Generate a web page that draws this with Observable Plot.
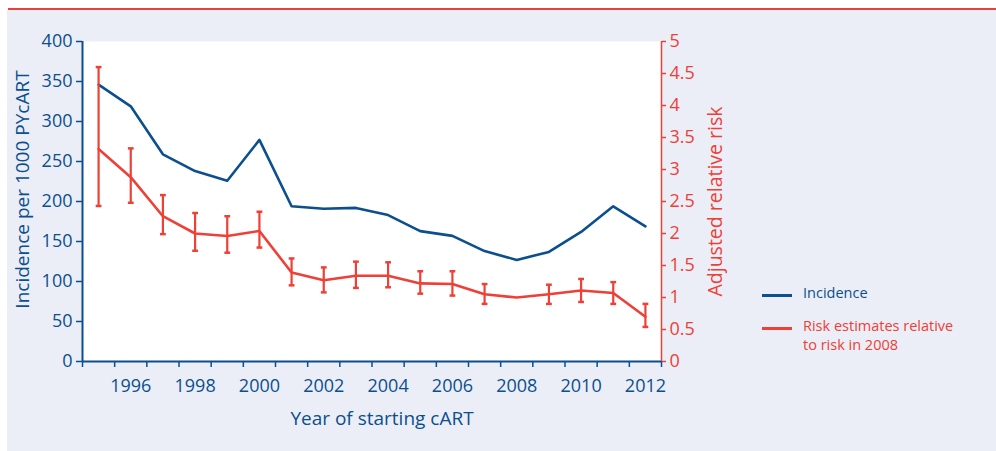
<!DOCTYPE html>
<html><head><meta charset="utf-8">
<script src="https://cdn.jsdelivr.net/npm/d3@7"></script>
<script src="https://cdn.jsdelivr.net/npm/@observablehq/plot@0.6"></script>
<style>
body{margin:0;background:#fff;font-family:"Open Sans",sans-serif;}
#wrap{position:relative;width:996px;height:451px;overflow:hidden;}
#panel{position:absolute;left:7px;top:10px;right:0;bottom:0;background:#ebeef6;}
#topline{position:absolute;left:8px;top:8px;right:0;height:2px;background:#e8413c;}
#chart{position:absolute;left:0;top:0;}
.legline{position:absolute;height:3px;width:30px;}
.legtext{position:absolute;font-size:14.5px;line-height:19px;}
</style></head>
<body>
<div id="wrap">
  <div id="panel"></div>
  <div id="topline"></div>
  <div id="chart"></div>
  <div class="legline" style="left:762px;top:294px;background:#0b4f8e"></div>
  <div class="legtext" style="left:803px;top:283px;color:#0b4f8e">Incidence</div>
  <div class="legline" style="left:762px;top:327px;background:#ee4036"></div>
  <div class="legtext" style="left:803px;top:316px;color:#ee4036">Risk estimates relative<br>to risk in 2008</div>
</div>
<script>
const years = [1995,1996,1997,1998,1999,2000,2001,2002,2003,2004,2005,2006,2007,2008,2009,2010,2011,2012];
const incidence = [346,319,259,238,226,277,194,191,192,183,163,157,138,127,137,162,194,169];
const risk = [3.32,2.88,2.27,2.00,1.96,2.04,1.39,1.27,1.34,1.34,1.22,1.21,1.05,1.00,1.05,1.11,1.07,0.70];
const riskLow = [2.43,2.48,1.99,1.73,1.70,1.78,1.19,1.08,1.15,1.16,1.06,1.03,0.90,null,0.90,0.93,0.90,0.54];
const riskHigh = [4.60,3.33,2.60,2.32,2.27,2.34,1.61,1.47,1.56,1.55,1.41,1.41,1.21,null,1.20,1.29,1.24,0.90];
const xTickLabels = [1996,1998,2000,2002,2004,2006,2008,2010,2012];
const leftTicks = [0,50,100,150,200,250,300,350,400];
const rightTicks = [0,0.5,1,1.5,2,2.5,3,3.5,4,4.5,5];

const blue = "#0b4f8e", red = "#ee4036";
const K = 400 / 5; // right axis (0–5) mapped onto left axis (0–400)
const data = years.map((year, i) => ({year, incidence: incidence[i], risk: risk[i], lo: riskLow[i], hi: riskHigh[i]}));
const errData = data.filter(d => d.lo != null);
const bandEdges = years.map(y => y - 0.5).concat([years[years.length - 1] + 0.5]);
const cap = 0.09;

const chart = Plot.plot({
  width: 996, height: 451,
  marginLeft: 82, marginRight: 335, marginTop: 41, marginBottom: 90,
  style: {background: "transparent", fontFamily: "'Open Sans', sans-serif", overflow: "visible"},
  x: {domain: [bandEdges[0], bandEdges[bandEdges.length - 1]]},
  y: {domain: [0, 400]},
  marks: [
    Plot.frame({fill: "white", stroke: null}),
    Plot.axisX(bandEdges, {tickSize: 6, tickFormat: () => "", stroke: blue, strokeWidth: 1.5, label: null}),
    Plot.axisX(xTickLabels, {tickSize: 0, tickPadding: 18, tickFormat: d => String(d), fill: blue, fontSize: 18, label: null}),
    Plot.axisY(leftTicks, {anchor: "left", tickSize: 6, tickPadding: 4, stroke: blue, strokeWidth: 1.5, fill: blue, fontSize: 18, label: null}),
    Plot.axisY(rightTicks.map(v => v * K), {anchor: "right", tickSize: 4, tickPadding: 4, stroke: red, strokeWidth: 1.5, fill: red, fontSize: 18, tickFormat: v => String(v / K), label: null}),
    Plot.ruleX([bandEdges[0]], {stroke: blue, strokeWidth: 2}),
    Plot.ruleX([bandEdges[bandEdges.length - 1]], {stroke: red, strokeWidth: 1.5}),
    Plot.ruleY([0], {stroke: blue, strokeWidth: 2}),
    Plot.line(data, {x: "year", y: "incidence", stroke: blue, strokeWidth: 2.6}),
    Plot.ruleX(errData, {x: "year", y1: d => d.lo * K, y2: d => d.hi * K, stroke: red, strokeWidth: 2.2}),
    Plot.link(errData, {x1: d => d.year - cap, x2: d => d.year + cap, y1: d => d.hi * K, y2: d => d.hi * K, stroke: red, strokeWidth: 2.5}),
    Plot.link(errData, {x1: d => d.year - cap, x2: d => d.year + cap, y1: d => d.lo * K, y2: d => d.lo * K, stroke: red, strokeWidth: 2.5}),
    Plot.line(data, {x: "year", y: d => d.risk * K, stroke: red, strokeWidth: 2.6}),
    Plot.text(["Incidence per 1000 PYcART"], {text: d => d, frameAnchor: "left", textAnchor: "middle", dx: -60, dy: -12, rotate: -90, fill: blue, fontSize: 19}),
    Plot.text(["Adjusted relative risk"], {text: d => d, frameAnchor: "right", textAnchor: "middle", dx: 54, dy: 0, rotate: -90, fill: red, fontSize: 19.5}),
    Plot.text(["Year of starting cART"], {text: d => d, frameAnchor: "bottom", textAnchor: "middle", dx: 10, dy: 63, fill: blue, fontSize: 19})
  ]
});
document.getElementById("chart").appendChild(chart);
</script>
</body></html>
